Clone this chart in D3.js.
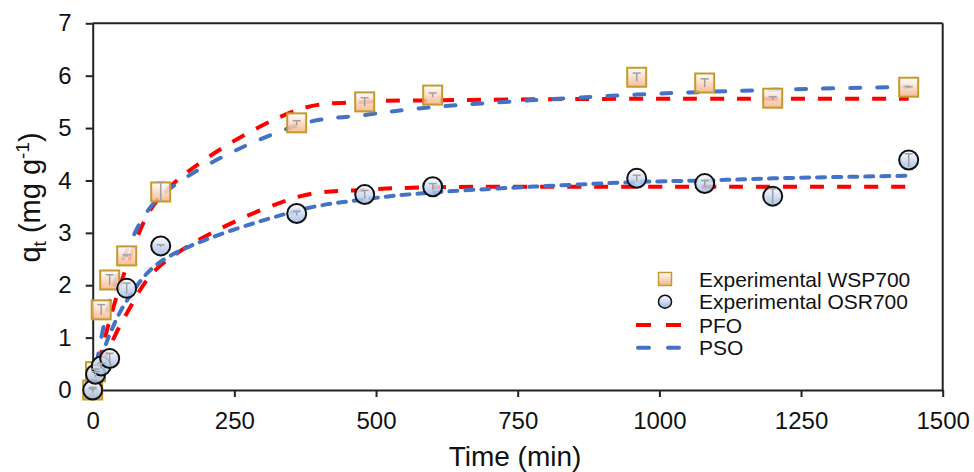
<!DOCTYPE html>
<html>
<head>
<meta charset="utf-8">
<script src="https://cdn.jsdelivr.net/npm/d3@7"></script>
<style>
  body { margin: 0; background: #fff; }
  svg { font-family: "Liberation Sans", Arial, sans-serif; }
  text { white-space: pre; }
</style>
</head>
<body>
<svg id="chart" width="974" height="472"></svg>
<script>
// sampling times (min)
let times = [0, 5, 15, 30, 60, 120, 360, 480, 600, 960, 1080, 1200, 1440];

// experimental points
let wsp = [0, 0.35, 1.53, 2.10, 2.56, 3.78, 5.10, 5.50, 5.63, 5.97, 5.86, 5.57, 5.78];
let osr = [0, 0.30, 0.46, 0.60, 1.94, 2.75, 3.37, 3.73, 3.88, 4.04, 3.94, 3.70, 4.39];
let wspErr = [0.02, 0.05, 0.10, 0.10, 0.02, 0.19, 0.04, 0.08, 0.04, 0.08, 0.08, 0.03, 0.01];
let osrErr = [0.05, 0.05, 0.05, 0.10, 0.10, 0.02, 0.04, 0.08, 0.06, 0.06, 0.06, 0.14, 0.12];

// model curves at the same times
let pfoWsp = [0, 0.25, 0.71, 1.33, 2.35, 3.70, 5.34, 5.50, 5.53, 5.56, 5.56, 5.56, 5.56];
let psoWsp = [0, 0.37, 0.99, 1.70, 2.66, 3.70, 5.05, 5.25, 5.40, 5.64, 5.69, 5.73, 5.79];
let pfoOsr = [0, 0.15, 0.43, 0.82, 1.46, 2.38, 3.68, 3.82, 3.87, 3.88, 3.88, 3.88, 3.88];
let psoOsr = [0, 0.22, 0.60, 1.06, 1.70, 2.45, 3.42, 3.64, 3.77, 3.97, 4.00, 4.04, 4.09];

let xTicks = [0, 250, 500, 750, 1000, 1250, 1500];
let yTicks = [0, 1, 2, 3, 4, 5, 6, 7];
let legendLabels = ['Experimental WSP700', 'Experimental OSR700', 'PFO', 'PSO'];

let svg = d3.select('#chart');

let xScale = d3.scaleLinear().domain([0, 1500]).range([92.7, 942.7]);
let yScale = d3.scaleLinear().domain([0, 7]).range([390, 23.3]);

// gradients
let defs = svg.append('defs');
let g1 = defs.append('linearGradient').attr('id', 'gSq').attr('x1', 0).attr('y1', 0).attr('x2', 0).attr('y2', 1);
g1.append('stop').attr('offset', '0%').attr('stop-color', '#ffffff');
g1.append('stop').attr('offset', '100%').attr('stop-color', '#f4b183');
let g2 = defs.append('linearGradient').attr('id', 'gCi').attr('x1', 0).attr('y1', 0).attr('x2', 0).attr('y2', 1);
g2.append('stop').attr('offset', '0%').attr('stop-color', '#ffffff');
g2.append('stop').attr('offset', '100%').attr('stop-color', '#9ab6e2');

// axes
let yAxis = d3.axisLeft(yScale).tickValues(yTicks).tickFormat(d3.format('d'))
  .tickSize(7).tickPadding(14).tickSizeOuter(0);
let xAxis = d3.axisBottom(xScale).tickValues(xTicks).tickFormat(d3.format('d'))
  .tickSize(7).tickPadding(15).tickSizeOuter(0);

svg.append('g').attr('id', 'yAxisG').attr('transform', 'translate(92.7,0)').call(yAxis);
svg.append('g').attr('id', 'xAxisG').attr('transform', 'translate(0,390)').call(xAxis);

svg.selectAll('#yAxisG text, #xAxisG text')
  .attr('font-size', 24).attr('fill', '#111').attr('font-family', '"Liberation Sans", Arial, sans-serif');
svg.selectAll('#yAxisG path, #yAxisG line, #xAxisG path, #xAxisG line')
  .attr('stroke', '#222').attr('stroke-width', 2);

// frame top and right
svg.append('line').attr('x1', xScale(0)).attr('x2', xScale(1500)).attr('y1', yScale(7)).attr('y2', yScale(7))
  .attr('stroke', '#222').attr('stroke-width', 2);
svg.append('line').attr('x1', xScale(1500)).attr('x2', xScale(1500)).attr('y1', yScale(7)).attr('y2', yScale(0))
  .attr('stroke', '#222').attr('stroke-width', 2);

// titles
svg.append('text').attr('x', 515).attr('y', 466).attr('text-anchor', 'middle')
  .attr('font-size', 28).attr('fill', '#111').text('Time (min)');

let yt = svg.append('text').attr('transform', 'translate(40,197.5) rotate(-90)')
  .attr('text-anchor', 'middle').attr('font-size', 29).attr('fill', '#111');
yt.append('tspan').text('q');
yt.append('tspan').attr('font-size', 19).attr('dy', 6).text('t');
yt.append('tspan').attr('dy', -6).text('\u00a0(mg g');
yt.append('tspan').attr('font-size', 19).attr('dy', -11).text('-1');
yt.append('tspan').attr('dy', 11).text(')');

// model lines
let line = d3.line().x(d => xScale(d[0])).y(d => yScale(d[1])).curve(d3.curveCatmullRom.alpha(0.5));
let curves = [
  {vals: pfoWsp, color: '#ff0000', dash: '14,13', cap: 'butt'},
  {vals: pfoOsr, color: '#ff0000', dash: '14,13', cap: 'butt'},
  {vals: psoWsp, color: '#4472c4', dash: '10,17', cap: 'round'},
  {vals: psoOsr, color: '#4472c4', dash: '8,8', cap: 'round'}
];
svg.append('g').selectAll('path')
  .data(curves)
  .enter()
  .append('path')
  .attr('d', c => line(times.map((t, i) => [t, c.vals[i]])))
  .attr('fill', 'none')
  .attr('stroke', c => c.color)
  .attr('stroke-width', 4)
  .attr('stroke-dasharray', c => c.dash)
  .attr('stroke-linecap', c => c.cap);

// experimental markers
let wspPts = times.map((t, i) => ({t: t, q: wsp[i], e: wspErr[i]}));
let osrPts = times.map((t, i) => ({t: t, q: osr[i], e: osrErr[i]}));

svg.append('g').selectAll('rect')
  .data(wspPts)
  .enter()
  .append('rect')
  .attr('x', d => xScale(d.t) - 9.5)
  .attr('y', d => yScale(d.q) - 9.5)
  .attr('width', 19).attr('height', 19)
  .attr('fill', 'url(#gSq)').attr('fill-opacity', 0.85)
  .attr('stroke', '#c39a2b').attr('stroke-width', 2);

svg.append('g').selectAll('circle')
  .data(osrPts)
  .enter()
  .append('circle')
  .attr('cx', d => xScale(d.t))
  .attr('cy', d => yScale(d.q))
  .attr('r', 9.5)
  .attr('fill', 'url(#gCi)').attr('fill-opacity', 0.85)
  .attr('stroke', '#111').attr('stroke-width', 2);

// error bars
let errG = svg.append('g').attr('stroke', '#a0a0a0').attr('stroke-width', 1.5);
wspPts.concat(osrPts).forEach(d => {
  let cx = xScale(d.t), top = yScale(d.q + d.e), bot = yScale(d.q - d.e);
  errG.append('line').attr('x1', cx).attr('x2', cx).attr('y1', top).attr('y2', bot);
  errG.append('line').attr('x1', cx - 4).attr('x2', cx + 4).attr('y1', top).attr('y2', top);
});

// legend
let leg = svg.append('g');
let rowY = [279, 301.7, 325, 347.7];
leg.append('rect').attr('x', 658.5).attr('y', rowY[0] - 6.5).attr('width', 13).attr('height', 13)
  .attr('fill', 'url(#gSq)').attr('stroke', '#c39a2b').attr('stroke-width', 1.5);
leg.append('circle').attr('cx', 665).attr('cy', rowY[1]).attr('r', 6.5)
  .attr('fill', 'url(#gCi)').attr('stroke', '#111').attr('stroke-width', 1.5);
leg.append('line').attr('x1', 636).attr('x2', 682).attr('y1', rowY[2]).attr('y2', rowY[2])
  .attr('stroke', '#ff0000').attr('stroke-width', 4).attr('stroke-dasharray', '15,15');
leg.append('line').attr('x1', 638).attr('x2', 680).attr('y1', rowY[3]).attr('y2', rowY[3])
  .attr('stroke', '#4472c4').attr('stroke-width', 4).attr('stroke-dasharray', '11,19').attr('stroke-linecap', 'round');
leg.selectAll('text')
  .data(legendLabels)
  .enter()
  .append('text')
  .attr('x', 699)
  .attr('y', (d, i) => rowY[i] + 7.5)
  .attr('font-size', 21)
  .attr('fill', '#111')
  .text(d => d);
</script>
</body>
</html>
